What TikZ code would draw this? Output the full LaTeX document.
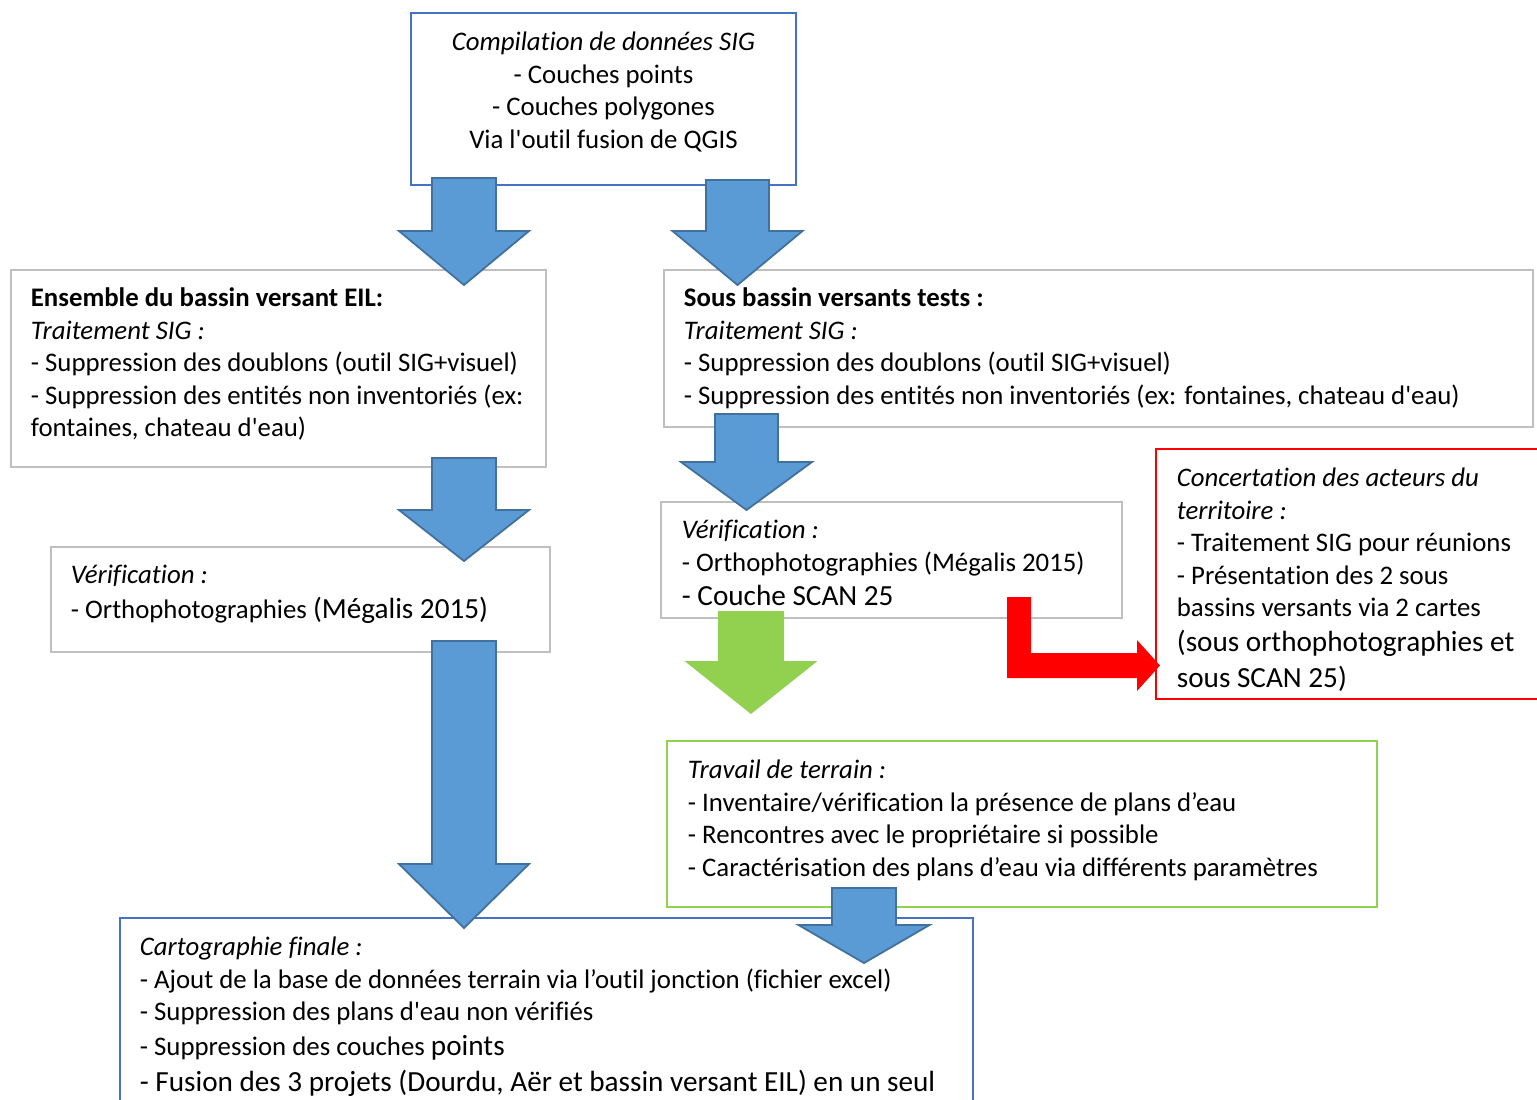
\documentclass[tikz,border=0pt]{standalone}
\usepackage{fontspec}
\setmainfont{Carlito}[RawFeature={-liga;-clig;-dlig;-calt}]
\usetikzlibrary{fit}
\definecolor{bxblue}{HTML}{4472C4}
\definecolor{bxgray}{HTML}{BFBFBF}
\definecolor{bxgreen}{HTML}{92D050}
\definecolor{arfill}{HTML}{5B9BD5}
\definecolor{arline}{HTML}{41719C}
\definecolor{bxred}{HTML}{FF0000}
\newcommand\blockarrow[7][]{%
  \filldraw[#1] (#2-#3,#4) -- (#2+#3,#4) -- (#2+#3,#5) -- (#2+#6,#5) -- (#2,#7)
    -- (#2-#6,#5) -- (#2-#3,#5) -- cycle;}
\newcommand\bigtxt{\fontsize{14.6}{16.25}\selectfont}
\newcommand\sq{\textquotesingle}
\begin{document}
\begin{tikzpicture}[x=0.5pt,y=-0.5pt,
  box/.style={draw, line width=1pt, inner sep=0pt},
  txt/.style={inner sep=0pt, align=left, anchor=north west, font=\fontsize{13.4}{16.25}\selectfont},
  bluear/.style={fill=arfill, draw=arline, line width=0.9pt, line join=miter},
  greenar/.style={fill=bxgreen, draw=none},
  redar/.style={fill=bxred}]
\useasboundingbox (0,0) rectangle (1537,1099);
% boxes
\node[box, draw=bxblue, fit={(411,13) (796,185)}] (top) {};
\node[box, draw=bxgray, fit={(11,270) (546,467)}] (eil) {};
\node[box, draw=bxgray, fit={(51,547) (550,652)}] (verl) {};
\node[box, draw=bxgray, fit={(664,270) (1533,427)}] (sbv) {};
\node[box, draw=bxgray, fit={(661,502) (1122,618)}] (verr) {};
\node[box, draw=bxred, fit={(1156,449) (1545,699)}] (conc) {};
\node[box, draw=bxgreen, fit={(667,741) (1377,907)}] (terr) {};
\node[box, draw=bxblue, fit={(120,918) (973,1115)}] (fin) {};
% texts
\node[txt, align=center, anchor=north] (toptxt) at (603.5,27.5) {\strut\textit{Compilation de données SIG}\\- Couches points\\- Couches polygones\\Via l\sq outil fusion de QGIS};
\node[txt] (eiltxt) at (30.5,283.5) {\strut\textbf{Ensemble du bassin versant EIL:}\\\textit{Traitement SIG :}\\- Suppression des doublons (outil SIG+visuel)\\- Suppression des entités non inventoriés (ex:\\fontaines, chateau d\sq eau)};
\node[txt] (verltxt) at (70.5,560.5) {\strut\textit{Vérification :}\\[1pt]- Orthophotographies {\bigtxt(Mégalis 2015)}};
\node[txt] (sbvtxt) at (683.5,283.5) {\strut\textbf{Sous bassin versants tests :}\\\textit{Traitement SIG :}\\- Suppression des doublons (outil SIG+visuel)\\- Suppression des entités non inventoriés (ex: fontaines, chateau d\sq eau)};
\node[txt] (verrtxt) at (681.5,515.5) {\strut\textit{Vérification :}\\- Orthophotographies (Mégalis 2015)\\[1pt]{\bigtxt- Couche SCAN 25}};
\node[txt] (conctxt) at (1176.5,463.5) {\strut\textit{Concertation des acteurs du}\\\textit{territoire :}\\- Traitement SIG pour réunions\\- Présentation des 2 sous\\bassins versants via 2 cartes\\[1pt]{\bigtxt(sous orthophotographies et}\\[2pt]{\bigtxt sous SCAN 25)}};
\node[txt] (terrtxt) at (687.5,755.5) {\strut\textit{Travail de terrain :}\\- Inventaire/vérification la présence de plans d’eau\\- Rencontres avec le propriétaire si possible\\- Caractérisation des plans d’eau via différents paramètres};
\node[txt] (fintxt) at (139.5,932.5) {\strut\textit{Cartographie finale :}\\- Ajout de la base de données terrain via l’outil jonction (fichier excel)\\- Suppression des plans d\sq eau non vérifiés\\[1pt]- Suppression des couches {\bigtxt points}\\[2pt]{\bigtxt- Fusion des 3 projets (Dourdu, Aër et bassin versant EIL) en un seul}};
% arrows
\blockarrow[bluear]{464}{32}{178}{231}{65}{285}
\blockarrow[bluear]{737.5}{31.5}{180}{231}{65}{285}
\blockarrow[bluear]{464}{32}{458}{510}{65}{561}
\blockarrow[bluear]{746.5}{31.5}{414}{462}{65.5}{510}
\blockarrow[bluear]{464}{32}{641}{864}{65}{928}
\blockarrow[bluear]{864}{32}{888}{925}{65.5}{963}
\blockarrow[greenar]{751}{33}{611}{661}{66.5}{714}
\fill[redar] (1007,597) -- (1031,597) -- (1031,653) -- (1137,653) -- (1137,640)
  -- (1160,665.5) -- (1137,691) -- (1137,678) -- (1007,678) -- cycle;
\end{tikzpicture}
\end{document}
